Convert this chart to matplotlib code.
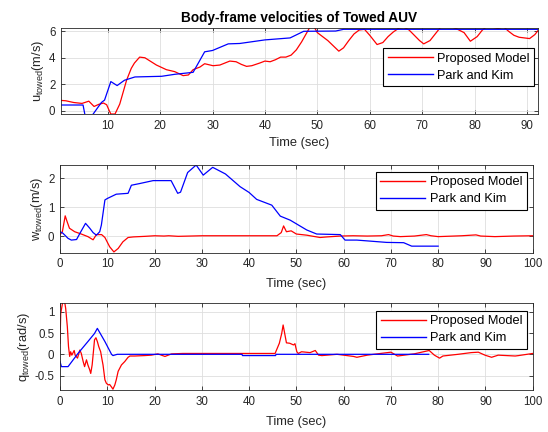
import matplotlib
matplotlib.use('Agg')
import matplotlib.pyplot as plt
import numpy as np

plt.rcParams['font.family'] = ['Liberation Sans', 'DejaVu Sans']
plt.rcParams['mathtext.default'] = 'regular'

# ---- u (surge) ----
u_red_t = [1, 2, 3.5, 5.1, 6.4, 7.4, 8.3, 9.2, 9.8, 10.3, 10.6, 11.4, 12.3, 13.6, 14.5, 15.1,
           16.1, 17.1, 19.3, 21.2, 22.8, 24.4, 25.4, 26.3, 27.6, 28.5, 30.1, 31.4, 33.3, 34.5,
           35.5, 36.5, 37.5, 39, 40, 41, 42, 43, 44, 45, 46, 47, 48, 48.7, 49.3, 50, 52, 54.1,
           55, 56, 57, 58, 59, 60, 61.4, 62.5, 63.5, 64.5, 65.6, 66.5, 67.5, 68.5, 69.5, 70.3,
           71.5, 72.5, 73.5, 74.5, 75.5, 76.5, 78, 79.2, 80.5, 81.5, 82.5, 83.5, 84.5, 85.5,
           86.5, 87.5, 88.5, 89.5, 90.5, 91.5, 92.1]
u_red = [0.78, 0.75, 0.62, 0.55, 0.72, 0.32, 0.48, 0.58, 0.45, 0.0, -0.25, -0.25, 0.5, 2.3,
         3.2, 3.6, 4.05, 4.0, 3.45, 3.1, 2.95, 2.65, 2.7, 3.1, 3.3, 3.55, 3.4, 3.45, 3.75, 3.7,
         3.5, 3.35, 3.4, 3.6, 3.75, 3.7, 3.85, 4.05, 4.05, 4.2, 4.6, 5.2, 5.9, 6.4, 6.4, 5.9,
         5.3, 4.5, 4.75, 5.3, 5.8, 6.1, 6.15, 5.7, 5.0, 5.15, 5.6, 5.95, 6.25, 6.3, 6.1, 5.7,
         5.3, 5.05, 5.3, 5.8, 6.3, 6.4, 6.35, 6.2, 5.9, 5.25, 5.6, 6.1, 6.4, 6.3, 6.2, 6.35,
         6.0, 5.7, 5.55, 5.5, 5.45, 5.75, 6.05]
u_blue_t = [1, 5.3, 5.8, 6.6, 8.8, 9.4, 10.6, 11.8, 13.2, 15.2, 20.3, 22.8, 26.3, 28.5, 30,
            33, 35.2, 40, 44.8, 47.4, 53.5, 55, 92.1]
u_blue = [0.43, 0.43, -0.6, -0.6, 0.62, 0.8, 2.2, 1.9, 2.3, 2.55, 2.6, 2.75, 2.9, 4.45, 4.55,
          5.05, 5.08, 5.35, 5.5, 6.0, 6.02, 6.15, 6.15]

# ---- w (heave) ----
w_red_t = [0, 0.5, 1.1, 1.5, 2.0, 3.1, 4.5, 5.9, 7.0, 7.7, 8.8, 9.5, 10.5, 11.4, 12.3, 13.3,
           14.4, 15.5, 18, 20, 22, 23, 25, 30, 40, 45.9, 46.8, 47.3, 47.9, 48.9, 50, 52.2, 55,
           56.5, 59.3, 62, 65, 68, 69.5, 70.5, 72, 75, 77.5, 78.5, 80, 85, 88, 89, 92, 96, 100]
w_red = [0.05, 0.15, 0.7, 0.5, 0.27, 0.15, 0.07, -0.02, -0.13, 0.05, 0.05, -0.05, -0.37, -0.55,
         -0.43, -0.2, -0.05, -0.03, -0.01, 0.01, 0.0, 0.01, -0.01, 0.01, 0.01, 0.01, 0.12, 0.35,
         0.15, 0.18, 0.07, 0.03, -0.05, -0.03, 0.0, 0.01, 0.0, 0.01, 0.05, 0.0, -0.02, 0.0,
         0.05, 0.01, -0.02, 0.01, 0.04, 0.0, -0.02, 0.0, 0.01]
w_blue_t = [0, 0.6, 1.7, 2.4, 3.5, 4.2, 5.4, 6.3, 7.0, 7.7, 8.4, 8.75, 9.5, 10, 11.9, 14.4, 15.1,
            16.9, 19.7, 23.5, 24.9, 25.5, 27, 28.8, 30.3, 32.3, 35, 38.1, 40, 41.6, 44.8, 46.6,
            48.7, 52.2, 54.3, 59.3, 60.3, 62.8, 69.1, 72.7, 74.4, 80]
w_blue = [0.15, 0.1, -0.08, -0.14, -0.12, 0.09, 0.44, 0.27, 0.12, 0.03, 0.15, 0.38, 1.25, 1.3,
          1.45, 1.48, 1.76, 1.82, 1.92, 1.92, 1.48, 1.52, 2.2, 2.46, 2.11, 2.38, 2.15, 1.71,
          1.51, 1.27, 1.07, 0.69, 0.55, 0.21, 0.07, 0.05, -0.14, -0.14, -0.22, -0.23, -0.35,
          -0.35]

# ---- q (pitch rate) ----
q_red_t = [0, 0.15, 0.4, 0.6, 1.0, 1.2, 1.55, 1.8, 2.05, 2.25, 2.5, 3.0, 3.2, 3.7, 4.2, 4.5,
           4.9, 5.2, 5.6, 5.9, 6.3, 6.5, 6.8, 7.1, 7.3, 7.6, 7.9, 8.2, 8.6, 8.9, 9.1, 9.5, 9.8,
           10.2, 10.5, 10.9, 11.2, 11.6, 11.9, 12.3, 13.0, 13.7, 14.4, 14.8, 15.8, 17.9, 19.3,
           20.7, 22.2, 23.6, 26, 30, 35, 38, 45.5, 46.4, 46.9, 47.2, 47.6, 47.9, 48.6, 49.4,
           49.7, 50.1, 50.4, 51.1, 52.9, 54, 54.7, 55.4, 58.6, 62.1, 62.8, 65, 67.8, 70, 71.4,
           74.9, 78.1, 79.2, 80.3, 81, 84.2, 87, 88.5, 89.9, 91.3, 92.7, 96.3, 97, 100]
q_red = [0.26, 0.96, 1.12, 1.25, 1.22, 1.08, 0.65, 0.18, -0.05, 0.06, -0.02, 0.09, -0.02, -0.09,
         0.1, 0.02, -0.17, -0.29, -0.13, -0.25, -0.37, -0.45, -0.25, 0.1, 0.34, 0.39, 0.3, 0.18,
         0.06, -0.13, -0.25, -0.6, -0.68, -0.72, -0.71, -0.77, -0.82, -0.72, -0.6, -0.4, -0.25,
         -0.17, -0.07, -0.04, -0.04, -0.03, -0.02, 0.01, -0.05, 0.01, 0.02, 0.02, 0.02, 0.02,
         0.02, 0.26, 0.49, 0.69, 0.45, 0.27, 0.26, 0.22, 0.25, 0.06, 0.02, 0.06, 0.04, 0.09,
         -0.02, -0.03, 0.0, -0.05, -0.07, -0.02, 0.02, 0.05, -0.04, 0.01, 0.09, -0.02, -0.09,
         -0.04, 0.0, 0.04, 0.05, -0.02, -0.07, -0.02, -0.04, -0.03, 0.02]
q_blue_t = [0, 0.3, 1.7, 3.8, 5.9, 7.3, 7.9, 9.5, 10.9, 11.2, 12.1, 38.5, 38.6, 45.6, 45.7, 78]
q_blue = [-0.17, -0.29, -0.29, 0.02, 0.3, 0.49, 0.61, 0.3, 0.0, -0.03, 0.0, 0.0, -0.03, -0.03,
          0.0, 0.0]

labels = ['Proposed Model', 'Park and Kim']
dark = '#262626'
lw = 0.9

fig = plt.figure(figsize=(5.48, 4.32), dpi=100)

def style(ax, xlim, ylim, xticks, yticks, yticklabels, ylabel, xpad):
    ax.set_xlim(xlim)
    ax.set_ylim(ylim)
    ax.set_xticks(xticks)
    ax.set_yticks(yticks)
    ax.set_yticklabels(yticklabels)
    ax.grid(True, color='#dedede', linewidth=0.6)
    ax.set_axisbelow(True)
    ax.tick_params(direction='in', length=3, width=0.6, colors=dark, labelsize=8.3,
                   top=True, right=True, pad=4)
    for s in ax.spines.values():
        s.set_color(dark)
        s.set_linewidth(0.6)
    ax.set_xlabel('Time (sec)', fontsize=9.3, color=dark, labelpad=xpad)
    ax.set_ylabel(ylabel, fontsize=9.3, color=dark, labelpad=2)

def add_legend(ax, anchor):
    leg = ax.legend(loc='upper right', bbox_to_anchor=anchor, fontsize=9.2, fancybox=False,
                    framealpha=1, edgecolor='black', handlelength=3.5, handletextpad=0.35,
                    borderpad=0.35, labelspacing=0.38, borderaxespad=0)
    leg.get_frame().set_linewidth(0.8)
    for line in leg.get_lines():
        line.set_linewidth(1.0)

# top: u
ax1 = fig.add_axes([0.1113, 0.7361, 0.8704, 0.1991])
ax1.plot(u_red_t, u_red, color='#ff0000', linewidth=lw, label=labels[0])
ax1.plot(u_blue_t, u_blue, color='#0000ff', linewidth=lw, label=labels[1])
style(ax1, (1.09, 92.1), (-0.25, 6.25), range(10, 91, 10), [0, 2, 4, 6],
      ['0', '2', '4', '6'], r'u$_{towed}$(m/s)', 4)
ax1.set_title('Body-frame velocities of Towed AUV', fontsize=9.8, fontweight='bold',
              color='black', pad=4)
add_legend(ax1, (0.9916, 0.764))

# middle: w
ax2 = fig.add_axes([0.1095, 0.4155, 0.8626, 0.2025])
ax2.plot(w_red_t, w_red, color='#ff0000', linewidth=lw, label=labels[0])
ax2.plot(w_blue_t, w_blue, color='#0000ff', linewidth=lw, label=labels[1])
style(ax2, (0, 100), (-0.57, 2.46), range(0, 101, 10), [0, 1, 2],
      ['0', '1', '2'], r'w$_{towed}$(m/s)', 6)
add_legend(ax2, (0.987, 0.923))

# bottom: q
ax3 = fig.add_axes([0.1095, 0.0972, 0.8626, 0.2007])
ax3.plot(q_red_t, q_red, color='#ff0000', linewidth=lw, label=labels[0])
ax3.plot(q_blue_t, q_blue, color='#0000ff', linewidth=lw, label=labels[1])
style(ax3, (0, 100), (-0.84, 1.2), range(0, 101, 10), [-0.5, 0, 0.5, 1],
      ['-0.5', '0', '0.5', '1'], r'q$_{towed}$(rad/s)', 6)
add_legend(ax3, (0.988, 0.911))

fig.savefig('out.png', dpi=100)
